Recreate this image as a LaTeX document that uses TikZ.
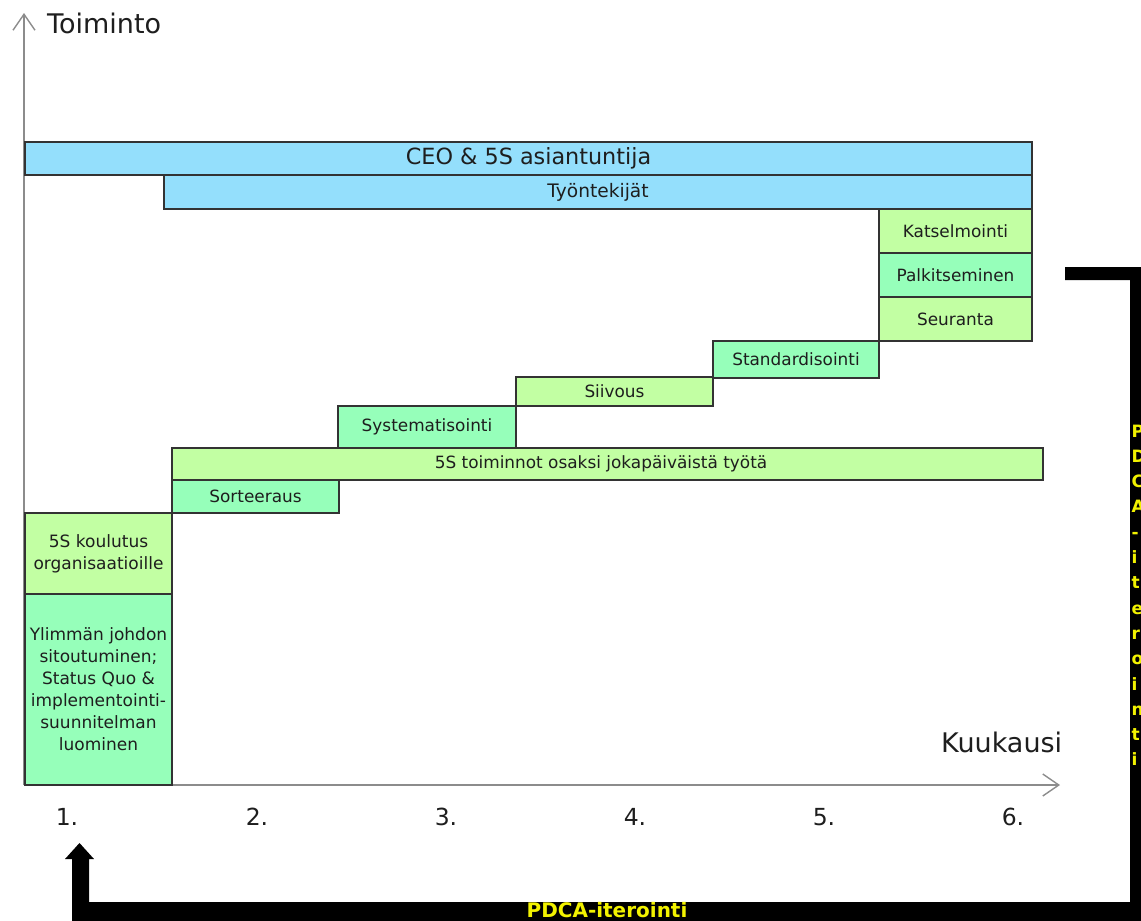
\documentclass[tikz,border=0pt]{standalone}
\usepackage{fontspec}
\setmainfont{DejaVu Sans}
\usetikzlibrary{arrows.meta}
\definecolor{cblue}{HTML}{94DFFC}
\definecolor{clgreen}{HTML}{C2FFA3}
\definecolor{cmint}{HTML}{96FFBA}
\definecolor{cborder}{HTML}{333333}
\definecolor{caxis}{HTML}{8C8C8C}
\definecolor{ctext}{HTML}{1E1E1E}
\definecolor{cyel}{HTML}{F2F200}
\begin{document}
\begin{tikzpicture}[x=1pt,y=-1pt,
  bar/.style={draw=cborder, line width=1.3pt, inner sep=0pt, outer sep=0pt,
    text=ctext, font=\fontsize{16.9}{22}\selectfont, align=center},
  leftbar/.style={bar, font=\fontsize{17}{22}\selectfont},
  axisline/.style={draw=caxis, line width=1.4pt, -{Straight Barb[length=16pt,width=22pt]}},
  axislabel/.style={text=ctext, font=\fontsize{27}{31}\selectfont, inner sep=0pt},
  num/.style={text=ctext, font=\fontsize{23.5}{28}\selectfont, inner sep=0pt, anchor=base},
  vlet/.style={text=cyel, font=\bfseries\fontsize{17}{20}\selectfont, inner sep=0pt, anchor=base west},
  pdcalabel/.style={text=cyel, font=\bfseries\fontsize{20}{24}\selectfont, inner sep=0pt, anchor=base}]
\useasboundingbox[fill=white] (0,0) rectangle (1141,921);

% axes
\coordinate (O) at (24,785);
\coordinate (ytip) at (24,13);
\coordinate (xtip) at (1060,785);
\draw[axisline] (O) -- (ytip);
\draw[axisline] (O) -- (xtip);
\node[axislabel, anchor=base west] (ylab) at (47,33) {Toiminto};
\node[axislabel, anchor=base west] (xlab) at (941,752) {Kuukausi};

% bars
\node[bar, fill=cblue, minimum width=1007, minimum height=33, font=\fontsize{22.3}{26}\selectfont] (ceo) at (528.5,158.5) {CEO \& 5S asiantuntija};
\node[bar, fill=cblue, minimum width=868, minimum height=34, font=\fontsize{18.6}{22}\selectfont] (tyo) at (598,192) {Työntekijät};
\node[bar, fill=clgreen, minimum width=153, minimum height=44] (kats) at (955.5,231) {Katselmointi};
\node[bar, fill=cmint, minimum width=153, minimum height=44] (palk) at (955.5,275) {Palkitseminen};
\node[bar, fill=clgreen, minimum width=153, minimum height=44] (seur) at (955.5,319) {Seuranta};
\node[bar, fill=cmint, minimum width=166, minimum height=37] (stand) at (796,359.5) {Standardisointi};
\node[bar, fill=clgreen, minimum width=197, minimum height=29] (siiv) at (614.5,391.5) {Siivous};
\node[bar, fill=cmint, minimum width=178, minimum height=42] (syst) at (427,427) {Systematisointi};
\node[bar, fill=clgreen, minimum width=871, minimum height=32] (toim) at (607.5,464) {};
\node[text=ctext, font=\fontsize{16.9}{22}\selectfont, inner sep=0pt] (toimtxt) at (601,464) {5S toiminnot osaksi jokapäiväistä työtä};
\node[bar, fill=cmint, minimum width=167, minimum height=33] (sort) at (255.5,496.5) {Sorteeraus};
\node[leftbar, fill=clgreen, minimum width=147, minimum height=81] (koul) at (98.5,553.5) {5S koulutus\\organisaatioille};
\node[leftbar, fill=cmint, minimum width=147, minimum height=191] (ylim) at (98.5,689.5) {Ylimmän johdon\\sitoutuminen;\\Status Quo \&\\implementointi-\\suunnitelman\\luominen};

% month numbers
\foreach \x/\n in {67/1,257/2,446/3,635/4,824/5,1013/6}
  \node[num] (m\n) at (\x,825) {\n.};

% PDCA loop arrow
\fill[black] (1065,267) -- (1141,267) -- (1141,921) -- (72,921) -- (72,859)
  -- (65,859) -- (79.5,843) -- (94,859) -- (89,859) -- (89,902)
  -- (1130,902) -- (1130,280) -- (1065,280) -- cycle;
\node[pdcalabel] (pdca) at (607,917) {PDCA-iterointi};
\foreach \l [count=\k from 0] in {P,D,C,A,-,i,t,e,r,o,i,n,t,i}
  \node[vlet] (v\k) at (1131.5,{437+25.3*\k}) {\l};
\end{tikzpicture}
\end{document}
